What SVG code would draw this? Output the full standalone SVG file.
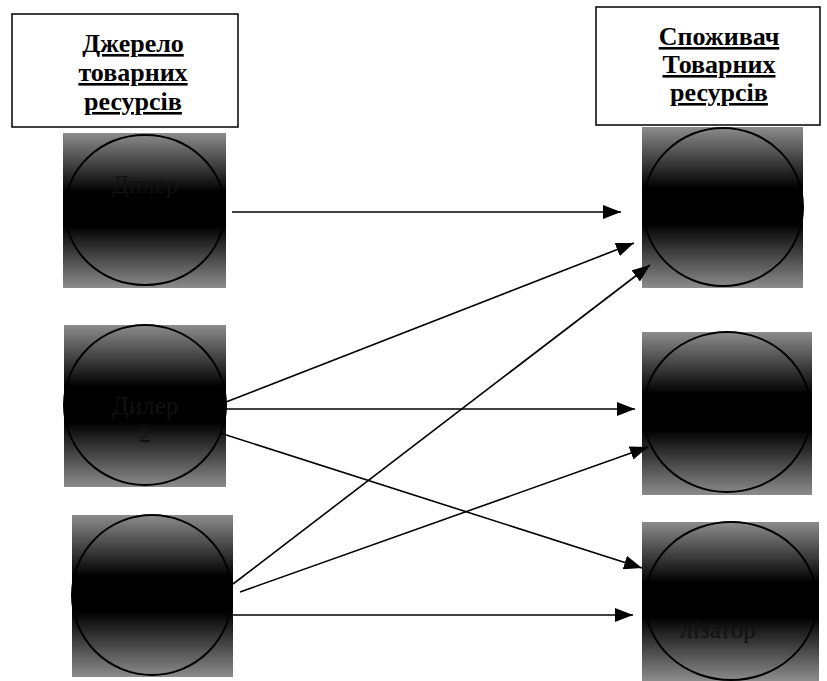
<svg xmlns="http://www.w3.org/2000/svg" width="827" height="681" viewBox="0 0 827 681">
<style>
.hbox{fill:#fff;stroke:#000;stroke-width:1.5}
.htxt{font-family:'Liberation Serif','DejaVu Serif',serif;font-weight:bold;font-size:26px;text-anchor:middle;text-decoration:underline;fill:#000}
.ntxt{font-family:'Liberation Serif','DejaVu Serif',serif;font-size:25px;text-anchor:middle;fill:#111}
.sq{fill:url(#g)}
.cir{fill:none;stroke:#000;stroke-width:2}
.con{stroke:#000;stroke-width:1.6;fill:none;marker-end:url(#ah)}
</style>
<defs>
<linearGradient id="g" x1="0" y1="0" x2="0" y2="1">
<stop offset="0" stop-color="#8c8c8c"/>
<stop offset="0.38" stop-color="#000"/>
<stop offset="0.6" stop-color="#000"/>
<stop offset="1" stop-color="#8c8c8c"/>
</linearGradient>
<marker id="ah" markerUnits="userSpaceOnUse" markerWidth="20" markerHeight="14" refX="18" refY="7" orient="auto">
<path d="M0,0 L18,7 L0,14 Z" fill="#000"/>
</marker>
</defs>
<rect width="827" height="681" fill="#fff"/>
<g id="src-header">
<rect class="hbox" x="12" y="14" width="226" height="113"/>
<text class="htxt" x="133" y="52">Джерело</text>
<text class="htxt" x="133" y="81">товарних</text>
<text class="htxt" x="133" y="110">ресурсів</text>
</g>
<g id="dst-header">
<rect class="hbox" x="596" y="7" width="224" height="118"/>
<text class="htxt" x="719" y="45">Споживач</text>
<text class="htxt" x="719" y="73">Товарних</text>
<text class="htxt" x="719" y="101">ресурсів</text>
</g>
<g id="src1">
<rect class="sq" x="63" y="133" width="163" height="155"/>
<ellipse class="cir" cx="145" cy="210" rx="80" ry="75"/>
<text class="ntxt" x="145" y="193">Дилер</text>
</g>
<g id="src2">
<rect class="sq" x="64" y="325" width="162" height="162"/>
<ellipse class="cir" cx="145" cy="405" rx="81" ry="80"/>
<text class="ntxt" x="145" y="414">Дилер</text>
<text class="ntxt" x="145" y="442">2</text>
</g>
<g id="src3">
<rect class="sq" x="72" y="515" width="161" height="162"/>
<ellipse class="cir" cx="152" cy="595" rx="80" ry="80"/>
</g>
<g id="dst1">
<rect class="sq" x="642" y="127" width="161" height="161"/>
<ellipse class="cir" cx="723" cy="207" rx="80" ry="79"/>
</g>
<g id="dst2">
<rect class="sq" x="642" y="332" width="170" height="163"/>
<ellipse class="cir" cx="727" cy="412" rx="84" ry="80"/>
</g>
<g id="dst3">
<rect class="sq" x="642" y="522" width="177" height="159"/>
<ellipse class="cir" cx="731" cy="601" rx="86" ry="79"/>
<text class="ntxt" x="718" y="638">лізатор</text>
</g>
<g id="connectors">
<line class="con" x1="232" y1="212" x2="621" y2="212"/>
<line class="con" x1="226" y1="402" x2="634" y2="243"/>
<line class="con" x1="226" y1="409" x2="635" y2="409"/>
<line class="con" x1="220" y1="433" x2="642" y2="568"/>
<line class="con" x1="233" y1="584" x2="650" y2="265"/>
<line class="con" x1="240" y1="592" x2="648" y2="447"/>
<line class="con" x1="233" y1="615" x2="633" y2="615"/>
</g>
</svg>
